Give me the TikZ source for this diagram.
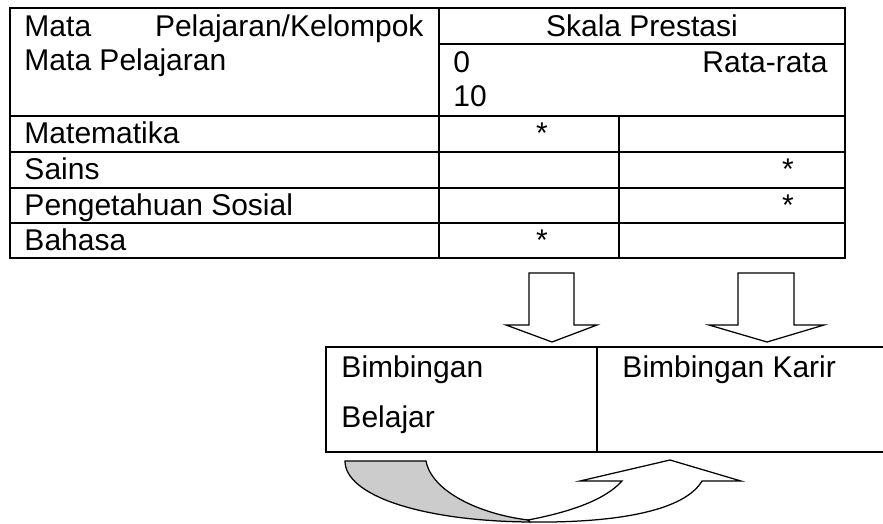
\documentclass[tikz,border=0pt]{standalone}
\usepackage{fontspec}
\setmainfont{Liberation Sans}
\begin{document}
\begin{tikzpicture}[x=0.4pt,y=-0.4pt,
  txt/.style={inner sep=0pt, anchor=base west, font=\fontsize{12}{14}\selectfont},
  txtr/.style={txt, anchor=base east},
  star/.style={txt, anchor=base},
  tbl/.style={line width=0.8pt, line cap=rect},
  arr/.style={line width=0.5pt, line join=miter, fill=white},
  back/.style={line width=0.5pt, fill=black!20}]
\useasboundingbox (0,0) rectangle (883,523);
% table
\draw[tbl] (10,8) rectangle (845,258);
\draw[tbl] (439,8) -- (439,258);
\draw[tbl] (439,44) -- (845,44);
\draw[tbl] (10,116) -- (845,116);
\foreach \yy in {152,188,223} \draw[tbl] (10,\yy) -- (845,\yy);
\draw[tbl] (619,116) -- (619,258);
% header texts
\node[txt]  (h1a) at (24,36) {Mata};
\node[txtr] (h1b) at (424,36) {Pelajaran/Kelompok};
\node[txt]  (h2)  at (24,70.5) {Mata Pelajaran};
\node[txt, anchor=base] (sk) at (642,36) {Skala Prestasi};
\node[txt]  (z0)  at (453,72) {0};
\node[txtr] (rr)  at (828,72) {Rata-rata};
\node[txt]  (t10) at (453,106.5) {10};
% rows
\node[txt] (r1) at (24,143) {Matematika};
\node[txt] (r2) at (24,179) {Sains};
\node[txt] (r3) at (24,215) {Pengetahuan Sosial};
\node[txt] (r4) at (24,250) {Bahasa};
\node[star] (s1) at (542,143) {*};
\node[star] (s2) at (788,179) {*};
\node[star] (s3) at (788,215) {*};
\node[star] (s4) at (542,250) {*};
% down arrows
\draw[arr] (529,273) -- (574,273) -- (574,325) -- (597,325) -- (552,342) -- (506,325) -- (529,325) -- cycle;
\draw[arr] (738,273) -- (794,273) -- (794,325) -- (824,325) -- (767,342) -- (709,325) -- (738,325) -- cycle;
% bottom box
\draw[tbl, line cap=butt] (884,347) -- (326,347) -- (326,452) -- (884,452);
\draw[tbl] (597,347) -- (597,452);
\node[txt] (bb1) at (341,377) {Bimbingan};
\node[txt] (bb2) at (341,427) {Belajar};
\node[txt] (bk)  at (622,377) {Bimbingan Karir};
% curved arrow: back (gray) part
\draw[back] (345,461) -- (426,461)
  .. controls (432,492) and (480,514) .. (528,520)
  -- (530,522)
  .. controls (420,521) and (345,495) .. (345,461) -- cycle;
% front (white) part
\draw[arr] (530,522)
  .. controls (620,523) and (685,510) .. (702,481)
  -- (741,481) -- (670,460) -- (580,481) -- (622,481)
  .. controls (605,500) and (570,512) .. (528,520) -- cycle;
\end{tikzpicture}
\end{document}
